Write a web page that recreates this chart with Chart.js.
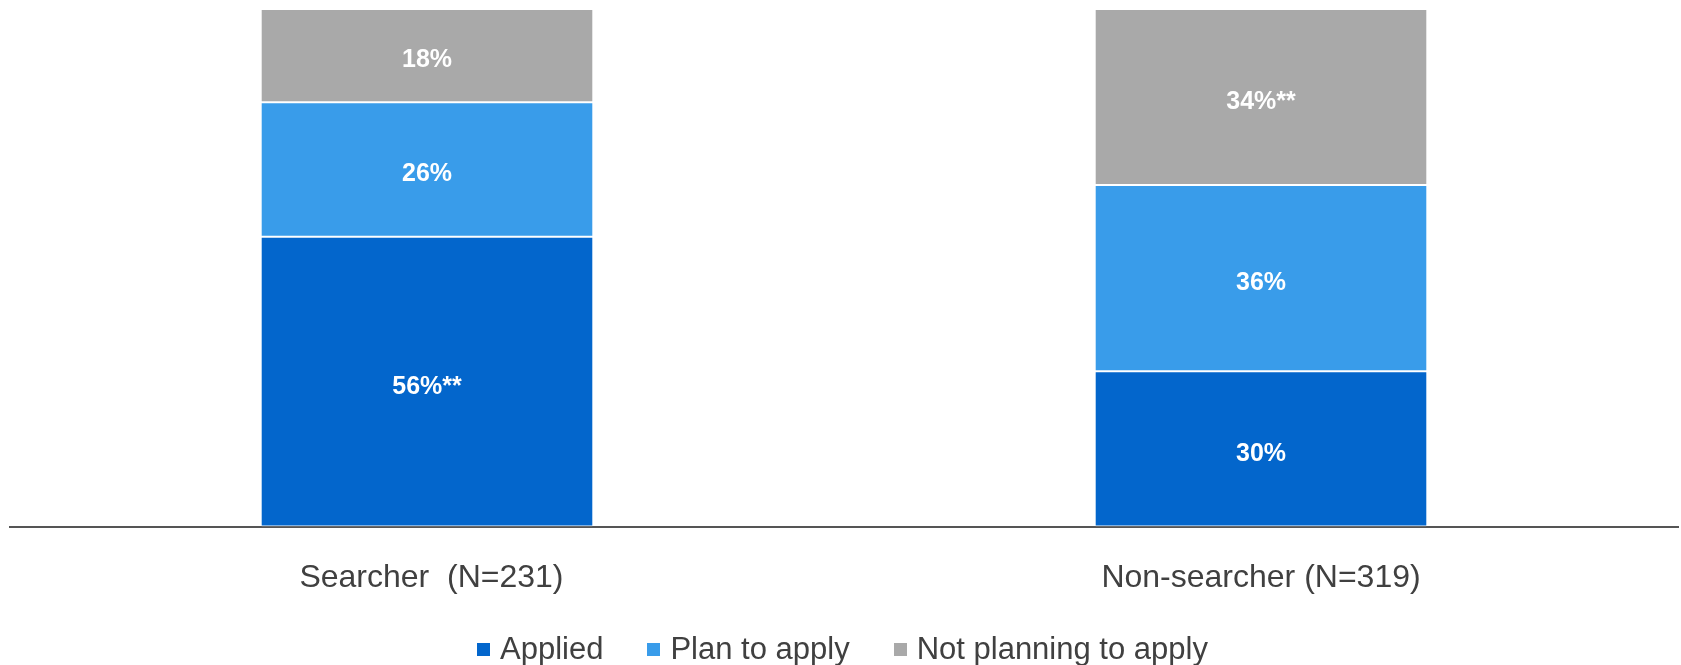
<!DOCTYPE html>
<html>
<head>
<meta charset="utf-8">
<script src="https://cdn.jsdelivr.net/npm/chart.js@4/dist/chart.umd.min.js"></script>
<style>
  html, body { margin: 0; padding: 0; background: #fff; }
  #wrap { position: relative; width: 1681px; height: 665px; }
  #legend {
    position: absolute; left: 477px; top: 631px;
    display: flex; align-items: center;
    font: 31px/36px "Liberation Sans", Arial, sans-serif; color: #404040;
    white-space: nowrap;
  }
  #legend .item { display: flex; align-items: center; margin-right: 44px; }
  #legend .item:last-child { margin-right: 0; }
  #legend .box { width: 13px; height: 13px; margin-right: 10px; }
</style>
</head>
<body>
<div id="wrap">
  <canvas id="chart" width="1681" height="665"></canvas>
  <div id="legend"></div>
</div>
<script>
  // groups and their shares (%), stacked bottom to top
  const groups = [' Searcher  (N=231)', 'Non-searcher (N=319)'];
  const applied = [56, 30];
  const planToApply = [26, 36];
  const notPlanning = [18, 34];
  // significance markers appended to the segment labels
  const appliedSig = ['**', ''];
  const planSig = ['', ''];
  const notPlanningSig = ['', '**'];

  const seriesNames = ['Applied', 'Plan to apply', 'Not planning to apply'];
  const seriesColors = ['#0366CC', '#399CEA', '#A9A9A9'];
  const seriesSig = [appliedSig, planSig, notPlanningSig];
  const FONT = '"Liberation Sans", Arial, sans-serif';

  // white value labels centred inside every segment
  const segmentLabels = {
    id: 'segmentLabels',
    afterDatasetsDraw(chart) {
      const ctx = chart.ctx;
      ctx.save();
      ctx.font = 'bold 25px ' + FONT;
      ctx.fillStyle = '#fff';
      ctx.textAlign = 'center';
      ctx.textBaseline = 'middle';
      chart.data.datasets.forEach((ds, di) => {
        chart.getDatasetMeta(di).data.forEach((bar, i) => {
          const p = bar.getProps(['x', 'y', 'base'], true);
          ctx.fillText(ds.data[i] + '%' + seriesSig[di][i], p.x, (p.y + p.base) / 2 + 5);
        });
      });
      ctx.restore();
    },
  };

  const datasets = [applied, planToApply, notPlanning].map((values, i) => ({
    label: seriesNames[i],
    data: values,
    backgroundColor: seriesColors[i],
    borderColor: '#fff',
    borderWidth: { top: 1, bottom: 1, left: 0, right: 0 },
    borderSkipped: false,
    categoryPercentage: 1,
    barPercentage: 0.397,
  }));

  new Chart(document.getElementById('chart'), {
    type: 'bar',
    data: { labels: groups, datasets },
    plugins: [segmentLabels],
    options: {
      responsive: false,
      animation: false,
      layout: { padding: { top: 9, left: 10, right: 3, bottom: 36 } },
      plugins: { legend: { display: false }, tooltip: { enabled: false } },
      scales: {
        x: {
          stacked: true,
          grid: { display: false, drawTicks: false },
          border: { display: true, color: '#555', width: 2 },
          ticks: {
            color: '#404040',
            font: { family: FONT, size: 32 },
            padding: 32,
            maxRotation: 0,
            autoSkip: false,
          },
        },
        y: { stacked: true, display: false, min: 0, max: 100 },
      },
    },
  });

  const legend = document.getElementById('legend');
  seriesNames.forEach((name, i) => {
    const item = document.createElement('div');
    item.className = 'item';
    const box = document.createElement('span');
    box.className = 'box';
    box.style.background = seriesColors[i];
    item.appendChild(box);
    item.appendChild(document.createTextNode(name));
    legend.appendChild(item);
  });
</script>
</body>
</html>
